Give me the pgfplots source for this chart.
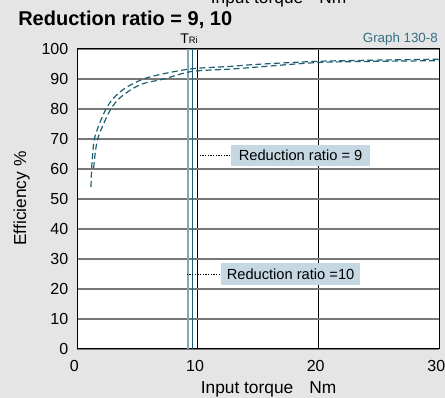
\documentclass[border=0pt]{standalone}
\usepackage{pgfplots}
\pgfplotsset{compat=1.18}
\usepackage{fontspec}
\setmainfont{Liberation Sans}

\definecolor{bg}{RGB}{229,229,229}
\definecolor{curvecol}{RGB}{31,95,115}
\definecolor{teallight}{RGB}{125,170,185}
\definecolor{boxblue}{RGB}{197,216,226}
\definecolor{gridgray}{RGB}{120,120,120}
\definecolor{graphcol}{RGB}{55,110,130}

\begin{document}
\begin{tikzpicture}
\fill[bg] (0,0) rectangle (333.75pt,298.5pt);

\begin{axis}[
    at={(57.75pt,36.75pt)}, anchor=south west,
    scale only axis, width=271.5pt, height=225pt,
    xmin=0, xmax=30, ymin=0, ymax=100,
    xtick={0,10,20,30}, ytick={0,10,...,100},
    major tick length=0pt,
    axis background/.style={fill=white},
    axis line style={black, line width=0.75pt},
    xmajorgrids, ymajorgrids,
    x grid style={black, line width=0.75pt},
    y grid style={gridgray, line width=1.5pt},
    /pgf/number format/assume math mode=true,
    tick label style={font=\fontsize{12}{12}\selectfont},
    xticklabel style={yshift=-5pt, xshift=-2pt},
    yticklabel style={xshift=-3pt},
    clip=false,
]
% T_Ri lines
\addplot[teallight, line width=1.5pt] coordinates {(9.2,0) (9.2,100)};
\addplot[curvecol, line width=0.8pt] coordinates {(9.55,0) (9.55,100)};

% ratio 9
\addplot[curvecol, line width=0.9pt, dash pattern=on 4.5pt off 2.5pt, smooth, tension=0.5] coordinates {
    (1.16,54) (1.21,60) (1.3,65) (1.44,70) (1.85,75) (2.4,80) (3,83.5)
    (4,87) (5.5,90) (7,91.6) (9.5,93.4) (12.7,94.2) (15,94.9)
    (20,95.9) (25,96.3) (30,96.6)
};
% ratio 10
\addplot[curvecol, line width=0.9pt, dash pattern=on 4.5pt off 2.5pt, smooth, tension=0.5] coordinates {
    (1.38,60.3) (1.5,65) (1.71,70) (2.2,75) (2.8,80) (3.5,83.5)
    (4.5,86.5) (5.5,88.5) (7.2,90) (9.5,92.5) (12.7,93.3) (15,94)
    (20,95.5) (25,95.9) (30,96.1)
};

% annotations
\draw[black, line width=0.5pt, dash pattern=on 1pt off 1pt] (9.95,64.5) -- (12.76,64.5);
\node[fill=boxblue, anchor=west, minimum width=104pt, minimum height=15.75pt, inner sep=0pt,
      font=\fontsize{11}{11}\selectfont] at (12.76,64.5) {Reduction ratio = 9};
\draw[black, line width=0.5pt, dash pattern=on 1pt off 1pt] (9.1,25) -- (11.93,25);
\node[fill=boxblue, anchor=west, minimum width=104pt, minimum height=16.5pt, inner sep=0pt,
      font=\fontsize{11}{11}\selectfont] at (11.93,25) {Reduction ratio =10};
\end{axis}

% texts around the axis
\node[anchor=base west, inner sep=0pt, font=\bfseries\fontsize{15}{15}\selectfont] at (13.5pt,279pt) {Reduction ratio = 9, 10};
\node[anchor=base east, inner sep=0pt, text=graphcol, font=\fontsize{10}{10}\selectfont] at (328.5pt,266.8pt) {Graph 130-8};
\node[anchor=base west, inner sep=0pt, font=\fontsize{10.5}{10.5}\selectfont] at (135pt,266pt) {T{\fontsize{7}{7}\selectfont Ri}};
\node[anchor=base, inner sep=0pt, font=\fontsize{13}{13}\selectfont] at (201.4pt,3pt) {Input torque\hspace{12pt}Nm};
\node[anchor=base, inner sep=0pt, rotate=90, font=\fontsize{13}{13}\selectfont] at (19.5pt,149.6pt) {Efficiency \%};
% caption of the chart above, cut by the page edge
\node[anchor=base, inner sep=0pt, font=\fontsize{13}{13}\selectfont] at (208.9pt,295.5pt) {Input torque\hspace{12pt}Nm};

\pgfresetboundingbox
\path[use as bounding box] (0,0) rectangle (333.75pt,298.5pt);
\end{tikzpicture}
\end{document}
